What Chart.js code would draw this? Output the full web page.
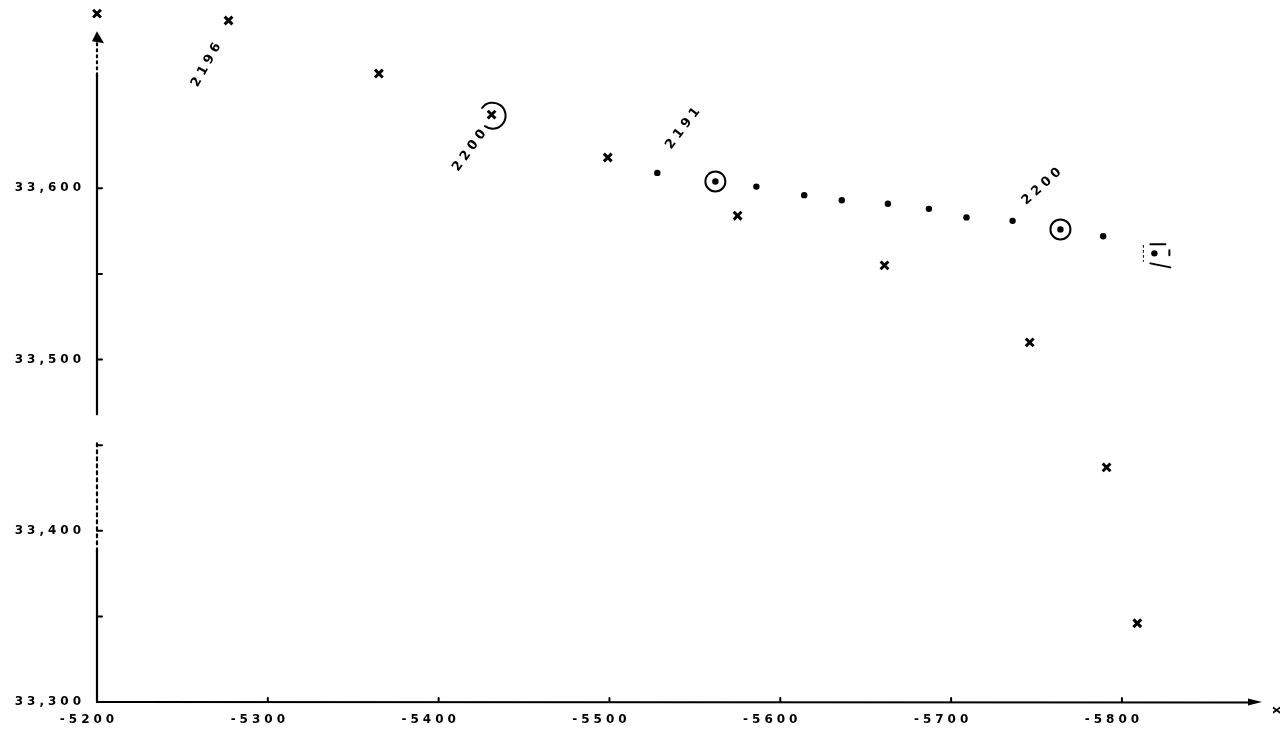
<!DOCTYPE html>
<html>
<head>
<meta charset="utf-8">
<script src="https://cdn.jsdelivr.net/npm/chart.js@4.4.1/dist/chart.umd.min.js"></script>
<style>
  html, body { margin: 0; padding: 0; background: #fff; }
  #wrap { width: 1284px; height: 733px; position: relative; }
</style>
</head>
<body>
<div id="wrap"><canvas id="c"></canvas></div>
<script>
// Crossed points (x marks)
const crossX = [-5200, -5277, -5365, -5431, -5499, -5575, -5661, -5746, -5791, -5809];
const crossY = [33702, 33698, 33667, 33643, 33618, 33584, 33555, 33510, 33437, 33346];

// Dotted points
const dotX = [-5528, -5562, -5586, -5614, -5636, -5663, -5687, -5709, -5736, -5764, -5789, -5819];
const dotY = [33609, 33604, 33601, 33596, 33593, 33591, 33588, 33583, 33581, 33576, 33572, 33562];

// Marked points (indices into the series above)
const ringedCrosses = [3];
const ringedDots = [1, 9];
const boxedDots = [11];

// Axis ticks and their labels
const xTicks = [-5200, -5300, -5400, -5500, -5600, -5700, -5800];
const xTickLabels = ['-5200', '-5300', '-5400', '-5500', '-5600', '-5700', '-5800'];
const yTicks = [33300, 33350, 33400, 33450, 33500, 33550, 33600];
const yTickLabels = ['33,300', '', '33,400', '', '33,500', '', '33,600'];

// Handwritten notes beside the points
const noteLabels = ['2196', '2200', '2191', '2200'];

const INK = '#000';
const HAND = '"DejaVu Sans", sans-serif';

const sketch = {
  id: 'sketch',
  beforeDraw(chart) {
    chart.ctx.letterSpacing = '4px';
  },
  afterDraw(chart, args, opts) {
    const { ctx, chartArea: a, scales: { x, y } } = chart;
    ctx.save();
    ctx.letterSpacing = '0px';
    ctx.strokeStyle = INK;
    ctx.fillStyle = INK;
    ctx.lineCap = 'round';
    ctx.lineWidth = 2.2;

    const x0 = x.getPixelForValue(-5200);
    const y0 = y.getPixelForValue(y.min);
    const yTop = y.getPixelForValue(opts.yAxisEnd);

    // vertical axis, drawn in pieces
    opts.yAxisSegments.forEach(seg => {
      ctx.setLineDash(seg.dash);
      ctx.beginPath();
      ctx.moveTo(x0, y.getPixelForValue(seg.from));
      ctx.lineTo(x0, y.getPixelForValue(seg.to));
      ctx.stroke();
    });
    ctx.setLineDash([]);
    // arrow head on top
    ctx.beginPath();
    ctx.moveTo(x0, yTop - 3);
    ctx.lineTo(x0 - 5, yTop + 7);
    ctx.lineTo(x0 + 7, yTop + 9);
    ctx.closePath();
    ctx.fill();

    // horizontal axis
    ctx.beginPath();
    ctx.moveTo(x0, y0);
    ctx.lineTo(a.right - 8, y0 + 0.5);
    ctx.stroke();
    ctx.beginPath();
    ctx.moveTo(a.right, y0);
    ctx.lineTo(a.right - 14, y0 - 3.5);
    ctx.lineTo(a.right - 14, y0 + 3.5);
    ctx.closePath();
    ctx.fill();

    // tick marks (inside the axes)
    ctx.lineWidth = 2;
    y.ticks.forEach(t => {
      if (t.value <= y.min) return;
      const py = y.getPixelForValue(t.value);
      ctx.beginPath();
      ctx.moveTo(x0, py);
      ctx.lineTo(x0 + 5, py);
      ctx.stroke();
    });
    x.ticks.forEach(t => {
      if (t.value >= -5200) return;
      const px = x.getPixelForValue(t.value);
      ctx.beginPath();
      ctx.moveTo(px, y0);
      ctx.lineTo(px, y0 - 4);
      ctx.stroke();
    });

    // axis letter at the end of the horizontal axis
    ctx.save();
    ctx.font = 'bold 12px ' + HAND;
    ctx.translate(a.right + 14, y0 + 8);
    ctx.rotate(Math.PI / 2);
    ctx.textAlign = 'center';
    ctx.textBaseline = 'middle';
    ctx.fillText('x', 0, 0);
    ctx.restore();

    // rings and box around marked points
    const crossMeta = chart.getDatasetMeta(0).data;
    const dotMeta = chart.getDatasetMeta(1).data;
    ctx.lineWidth = 2;
    ringedCrosses.forEach(i => {
      const p = crossMeta[i];
      ctx.beginPath();
      ctx.arc(p.x + 1, p.y + 1, 13, Math.PI * 1.2, Math.PI * 0.7);
      ctx.stroke();
    });
    ringedDots.forEach(i => {
      const p = dotMeta[i];
      ctx.beginPath();
      ctx.arc(p.x, p.y, 10, 0, Math.PI * 2);
      ctx.stroke();
    });
    boxedDots.forEach(i => {
      const p = dotMeta[i];
      ctx.lineWidth = 2;
      ctx.beginPath();
      ctx.moveTo(p.x - 4, p.y - 9); ctx.lineTo(p.x + 11, p.y - 9);
      ctx.moveTo(p.x - 4, p.y + 10); ctx.lineTo(p.x + 16, p.y + 14);
      ctx.moveTo(p.x + 15, p.y - 3); ctx.lineTo(p.x + 15, p.y + 2);
      ctx.stroke();
      ctx.lineWidth = 1;
      ctx.setLineDash([2, 3]);
      ctx.beginPath();
      ctx.moveTo(p.x - 11, p.y - 8); ctx.lineTo(p.x - 11, p.y + 8);
      ctx.stroke();
      ctx.setLineDash([]);
    });

    // slanted notes
    ctx.font = 'bold 13px ' + HAND;
    ctx.letterSpacing = '4px';
    ctx.textAlign = 'center';
    ctx.textBaseline = 'middle';
    opts.notes.forEach((n, i) => {
      ctx.save();
      ctx.translate(x.getPixelForValue(n.x), y.getPixelForValue(n.y));
      ctx.rotate(n.angle * Math.PI / 180);
      ctx.fillText(noteLabels[i], 2, 0);
      ctx.restore();
    });

    ctx.restore();
  }
};

// keep the plot box exactly where the axes are drawn
function noScalePadding(s) {
  s.paddingTop = 0;
  s.paddingBottom = 0;
  s.paddingLeft = 0;
  s.paddingRight = 0;
}

new Chart(document.getElementById('c'), {
  type: 'scatter',
  data: {
    datasets: [
      {
        data: crossX.map((v, i) => ({ x: v, y: crossY[i] })),
        pointStyle: 'crossRot',
        pointRadius: 5.5,
        pointBorderWidth: 3,
        borderColor: INK,
        backgroundColor: INK,
        clip: false
      },
      {
        data: dotX.map((v, i) => ({ x: v, y: dotY[i] })),
        pointStyle: 'circle',
        pointRadius: 3.2,
        pointBorderWidth: 0,
        borderColor: INK,
        backgroundColor: INK,
        clip: false
      }
    ]
  },
  options: {
    responsive: true,
    maintainAspectRatio: false,
    devicePixelRatio: 1,
    animation: false,
    events: [],
    layout: { padding: { left: 0, right: 22, top: 1, bottom: 0 } },
    plugins: {
      legend: { display: false },
      tooltip: { enabled: false },
      sketch: {
        yAxisEnd: 33690,
        yAxisSegments: [
          { from: 33300, to: 33388, dash: [] },
          { from: 33388, to: 33453, dash: [3, 4] },
          { from: 33468, to: 33666, dash: [] },
          { from: 33666, to: 33686, dash: [2, 4] }
        ],
        notes: [
          { x: -5264, y: 33672, angle: -61 },
          { x: -5418, y: 33622, angle: -54 },
          { x: -5543, y: 33635, angle: -53 },
          { x: -5753, y: 33601, angle: -42 }
        ]
      }
    },
    scales: {
      x: {
        type: 'linear',
        reverse: true,
        min: -5882,
        max: -5200,
        afterBuildTicks: s => { s.ticks = xTicks.map(v => ({ value: v })); },
        afterFit: s => { s.height = 31; noScalePadding(s); },
        grid: { display: false, drawTicks: false },
        border: { display: false },
        ticks: {
          callback: (v, i) => xTickLabels[i],
          color: INK,
          font: { family: HAND, size: 12, weight: 'bold' },
          padding: 11,
          labelOffset: -8,
          maxRotation: 0,
          autoSkip: false
        }
      },
      y: {
        type: 'linear',
        min: 33300,
        max: 33705,
        afterBuildTicks: s => { s.ticks = yTicks.map(v => ({ value: v })); },
        afterFit: s => { s.width = 97; noScalePadding(s); },
        grid: { display: false, drawTicks: false },
        border: { display: false },
        ticks: {
          callback: (v, i) => yTickLabels[i],
          color: INK,
          font: { family: HAND, size: 12, weight: 'bold' },
          padding: 12,
          autoSkip: false
        }
      }
    }
  },
  plugins: [sketch]
});
</script>
</body>
</html>
